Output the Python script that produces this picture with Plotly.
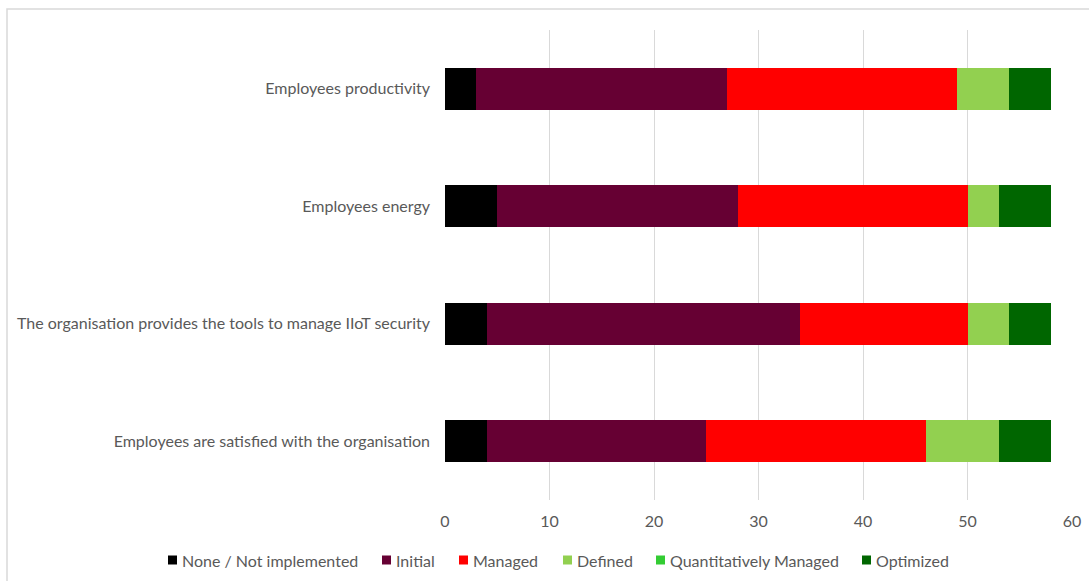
import plotly.graph_objects as go

# Survey items (top to bottom) and counts per maturity level
categories = [
    "Employees productivity",
    "Employees energy",
    "The organisation provides the tools to manage IIoT security",
    "Employees are satisfied with the organisation",
]
levels = ["None / Not implemented", "Initial", "Managed", "Defined",
          "Quantitatively Managed", "Optimized"]
none_vals = [3, 5, 4, 4]
initial_vals = [24, 23, 30, 21]
managed_vals = [22, 22, 16, 21]
defined_vals = [5, 3, 4, 7]
quant_vals = [0, 0, 0, 0]
optimized_vals = [4, 5, 4, 5]
x_ticks = [0, 10, 20, 30, 40, 50, 60]

series = [none_vals, initial_vals, managed_vals, defined_vals, quant_vals, optimized_vals]
colors = ["#000000", "#660033", "#FF0000", "#92D050", "#33CC33", "#006600"]

W, H = 1089, 581
L, R, T, B = 445, 17, 30, 81
PW, PH = W - L - R, H - T - B


def px_x(px):
    return (px - L) / PW


def px_y(py):
    return (H - B - py) / PH


fig = go.Figure()
for name, vals, col in zip(levels, series, colors):
    fig.add_trace(go.Bar(
        y=categories, x=vals, name=name, orientation="h",
        marker=dict(color=col, line=dict(width=0)), showlegend=False,
    ))

font_col = "#595959"
fig.update_layout(
    barmode="stack",
    bargap=0.643,
    width=W, height=H,
    margin=dict(l=L, r=R, t=T, b=B, autoexpand=False),
    paper_bgcolor="white", plot_bgcolor="white",
    font=dict(family="Lato, Open Sans, sans-serif", size=16, color=font_col),
    xaxis=dict(
        range=[0, 60], tickvals=x_ticks, showgrid=True, gridcolor="#D9D9D9",
        gridwidth=1, zeroline=False, showline=False, ticks="",
        ticklabelstandoff=10, tickfont=dict(size=16, color=font_col),
    ),
    yaxis=dict(
        autorange="reversed", showgrid=False, showline=False, ticks="",
        ticklabelstandoff=14, tickfont=dict(size=16, color=font_col),
    ),
    showlegend=False,
)

# Thin light frame around the chart
fig.add_shape(
    type="rect", xref="paper", yref="paper",
    x0=px_x(7), x1=px_x(W + 20), y0=px_y(H + 20), y1=px_y(9),
    line=dict(color="#D9D9D9", width=1.5), fillcolor="rgba(0,0,0,0)",
    layer="below",
)

# Legend row: coloured square key followed by the level name
legend_x = [168, 382, 459, 563, 656, 862]
legend_y = 560
for name, col, lx in zip(levels, colors, legend_x):
    fig.add_shape(
        type="rect", xref="paper", yref="paper",
        x0=px_x(lx), x1=px_x(lx + 9), y0=px_y(legend_y + 4.5), y1=px_y(legend_y - 4.5),
        line=dict(width=0), fillcolor=col,
    )
    fig.add_annotation(
        xref="paper", yref="paper", x=px_x(lx + 12), y=px_y(legend_y),
        xanchor="left", yanchor="middle", text=name, showarrow=False,
        font=dict(size=16, color=font_col),
    )

fig.write_html("out.html")
